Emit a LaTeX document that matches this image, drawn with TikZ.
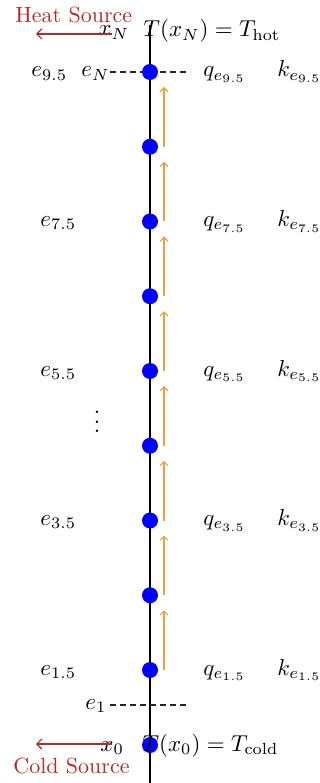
\documentclass[tikz,border=0pt]{standalone}
\usetikzlibrary{calc,arrows.meta}
\definecolor{heatred}{RGB}{178,42,42}
\definecolor{qorange}{RGB}{232,162,62}
\begin{document}
\begin{tikzpicture}[x=1pt,y=-1pt,
  lbl/.style={scale=2.3, inner sep=0, anchor=base west},
  src/.style={text=heatred, scale=2.2, inner sep=0, anchor=base west},
  dot/.style={circle, fill=blue, minimum size=16pt, inner sep=0},
  flux/.style={draw=qorange, line width=1.1pt, -{Straight Barb[length=4pt,width=8pt]}},
  cut/.style={dash pattern=on 6pt off 4pt, line width=1.2pt, draw=black!85},
  srcarrow/.style={draw=heatred, line width=1.2pt, -{Straight Barb[length=5pt,width=10pt]}},
  axis/.style={draw=black, line width=1.4pt}]
\useasboundingbox (0,0) rectangle (320,783);

% axis
\coordinate (top) at (150,25);
\coordinate (bot) at (150,783);
\draw[axis] (top) -- (bot);

% dashed cut lines
\coordinate (cN1) at (110,72);
\coordinate (cN2) at (188,72);
\draw[cut] (cN1) -- (cN2);
\coordinate (c11) at (110,705);
\coordinate (c12) at (187,705);
\draw[cut] (c11) -- (c12);

% dots
\node[dot] (d0) at (150,745) {};
\foreach \k in {1,...,9}{
  \pgfmathsetmacro{\yy}{670-(\k-1)*74.75}
  \node[dot] (d\k) at (150,\yy) {};
}

% flux arrows
\foreach \k [evaluate=\k as \n using int(\k+1)] in {1,...,8}{
  \draw[flux] ($(d\k)+(14,0)$) -- ($(d\n)+(14,15)$);
}

% labels
\foreach \k in {1,3,5,7}{
  \pgfmathsetmacro{\yy}{670-(\k-1)*74.75+5}
  \node[lbl] (e\k) at (40,\yy) {$e_{\k.5}$};
  \node[lbl] (q\k) at (203,\yy) {$q_{e_{\k.5}}$};
  \node[lbl] (k\k) at (277,\yy) {$k_{e_{\k.5}}$};
}
\node[lbl] (e9) at (31,77) {$e_{9.5}$};
\node[lbl] (eN) at (81,77) {$e_N$};
\node[lbl] (q9) at (203,77) {$q_{e_{9.5}}$};
\node[lbl] (k9) at (277,77) {$k_{e_{9.5}}$};
\node[lbl] (e1) at (85,709) {$e_1$};
\node[scale=2.3, inner sep=0] (vd) at (97,415) {$\vdots$};

% sources
\node[src] (heat) at (15,23) {Heat Source};
\node[src] (cold) at (13,773) {Cold Source};
\node[lbl] (xN) at (98,36) {$x_N$};
\node[lbl] (Thot) at (143,37) {$T(x_N) = T_{\mathrm{hot}}$};
\node[lbl] (x0) at (100,751) {$x_0$};
\node[lbl] (Tcold) at (142,751) {$T(x_0) = T_{\mathrm{cold}}$};
\coordinate (hA) at (112,34);
\coordinate (hB) at (36,34);
\draw[srcarrow] (hA) -- (hB);
\coordinate (cA) at (112,744);
\coordinate (cB) at (36,744);
\draw[srcarrow] (cA) -- (cB);
\end{tikzpicture}
\end{document}
